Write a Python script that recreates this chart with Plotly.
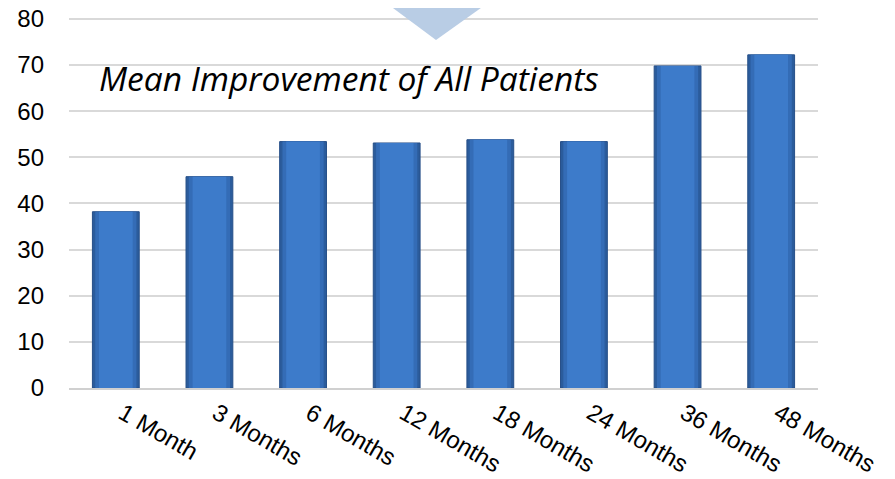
import plotly.graph_objects as go

categories = ["1 Month", "3 Months", "6 Months", "12 Months", "18 Months", "24 Months", "36 Months", "48 Months"]
values = [38.2, 45.8, 53.4, 53.1, 53.8, 53.4, 69.8, 72.2]
y_ticks = [0, 10, 20, 30, 40, 50, 60, 70, 80]
title_text = "Mean Improvement of All Patients"

fig = go.Figure()
fig.add_trace(go.Bar(
    x=categories, y=values, width=0.5,
    marker=dict(color="#2B5C9C", line=dict(color="#264F88", width=1)),
    hoverinfo="x+y",
))
fig.add_trace(go.Bar(
    x=categories, y=values, width=0.44,
    marker=dict(color="#346CB6", line=dict(width=0)),
    hoverinfo="skip",
))
fig.add_trace(go.Bar(
    x=categories, y=values, width=0.36,
    marker=dict(color="#3D7BCA", line=dict(width=0)),
    hoverinfo="skip",
))

fig.update_layout(
    width=895, height=479,
    margin=dict(l=61, r=85, t=9, b=99),
    barmode="overlay",
    showlegend=False,
    plot_bgcolor="white", paper_bgcolor="white",
    font=dict(family="Liberation Sans, Arial, sans-serif", size=24, color="black"),
    xaxis=dict(
        type="category", tickangle=30, showgrid=False, automargin=False,
        showline=True, linecolor="#D0D0D0", linewidth=2,
        ticks="", tickfont=dict(size=24), ticklabelstandoff=0, ticklabelshift=7,
    ),
    yaxis=dict(
        range=[0, 80.4], tickvals=y_ticks, showgrid=True, automargin=False,
        gridcolor="#D9D9D9", gridwidth=2, zeroline=False,
        showline=False, ticks="", ticklabelstandoff=24,
        ticklabeloverflow="allow",
        tickfont=dict(size=24),
    ),
    shapes=[dict(
        type="path", xref="paper", yref="paper",
        path="M 0.418 1.046 L 0.565 1.046 L 0.490 0.938 Z",
        fillcolor="#B9CDE5", line=dict(width=0), layer="above",
    )],
    annotations=[dict(
        text=title_text, xref="paper", yref="paper",
        x=0.0374, y=0.835, xanchor="left", yanchor="middle",
        showarrow=False,
        font=dict(family="Open Sans, sans-serif", size=33.5, style="italic", color="black"),
    )],
)

fig.write_html("out.html")
